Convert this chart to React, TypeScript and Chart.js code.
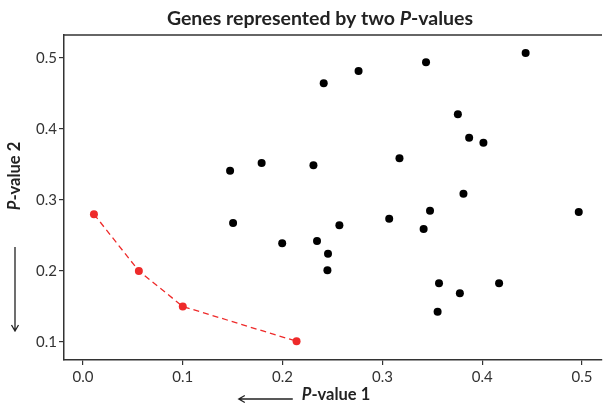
import React, { useEffect, useRef } from "react";
import { Chart, registerables } from "chart.js";
Chart.register(...registerables);

const blackX = [0.4435, 0.3437, 0.2761, 0.2412, 0.3756, 0.3869, 0.4012, 0.3171, 0.1474, 0.179, 0.2309, 0.3812, 0.3477, 0.3068, 0.4967, 0.1504, 0.2569, 0.3413, 0.2345, 0.1996, 0.2455, 0.2449, 0.3567, 0.4169, 0.3776, 0.3553];
const blackY = [0.507, 0.494, 0.4817, 0.4644, 0.4207, 0.3877, 0.3807, 0.3587, 0.3413, 0.3521, 0.3489, 0.3089, 0.2849, 0.2737, 0.2831, 0.2676, 0.2644, 0.2592, 0.2423, 0.239, 0.2244, 0.201, 0.1827, 0.1827, 0.1686, 0.1425];
const redX = [0.011, 0.056, 0.1, 0.214];
const redY = [0.28, 0.2, 0.15, 0.101];
const xTicks = [0, 0.1, 0.2, 0.3, 0.4, 0.5];
const yTicks = [0.1, 0.2, 0.3, 0.4, 0.5];
const titleParts = [
  { text: "Genes represented by two ", italic: false },
  { text: "P", italic: true },
  { text: "-values", italic: false },
];
const xLabelParts = [
  { text: "P", italic: true },
  { text: "-value 1", italic: false },
];
const yLabelParts = [
  { text: "P", italic: true },
  { text: "-value 2", italic: false },
];

const FAMILY = "Lato, 'Open Sans', sans-serif";
const AXIS_COLOR = "#333333";
const RED = "#EE2A2A";

type Part = { text: string; italic: boolean };

function drawParts(ctx: CanvasRenderingContext2D, parts: Part[], cx: number, cy: number, size: number) {
  const fontFor = (p: Part) => `${p.italic ? "italic " : ""}bold ${size}px ${FAMILY}`;
  let total = 0;
  const widths = parts.map((p) => {
    ctx.font = fontFor(p);
    const w = ctx.measureText(p.text).width;
    total += w;
    return w;
  });
  let x = cx - total / 2;
  ctx.textBaseline = "middle";
  ctx.textAlign = "left";
  ctx.fillStyle = "#222222";
  parts.forEach((p, i) => {
    ctx.font = fontFor(p);
    ctx.fillText(p.text, x, cy);
    x += widths[i];
  });
  return total;
}

const decorPlugin = {
  id: "decor",
  afterDraw(chart: any) {
    const ctx: CanvasRenderingContext2D = chart.ctx;
    const area = chart.chartArea;
    ctx.save();
    // top border
    ctx.strokeStyle = AXIS_COLOR;
    ctx.lineWidth = 1.5;
    ctx.beginPath();
    ctx.moveTo(area.left, area.top);
    ctx.lineTo(area.right, area.top);
    ctx.stroke();
    // title
    drawParts(ctx, titleParts, 320, 19, 19.5);
    // x label
    const cx = 336;
    const w = drawParts(ctx, xLabelParts, cx, 394.5, 16.5);
    // x arrow
    const ax1 = cx - w / 2 - 9;
    const ax0 = ax1 - 54;
    ctx.strokeStyle = "#222222";
    ctx.lineWidth = 1.3;
    ctx.beginPath();
    ctx.moveTo(ax1, 399);
    ctx.lineTo(ax0, 399);
    ctx.moveTo(ax0 + 6, 395.5);
    ctx.lineTo(ax0, 399);
    ctx.lineTo(ax0 + 6, 402.5);
    ctx.stroke();
    // y label
    ctx.save();
    ctx.translate(15, 176);
    ctx.rotate(-Math.PI / 2);
    drawParts(ctx, yLabelParts, 0, 0, 16.5);
    ctx.restore();
    // y arrow
    ctx.beginPath();
    ctx.moveTo(15, 247);
    ctx.lineTo(15, 331);
    ctx.moveTo(11.5, 325);
    ctx.lineTo(15, 331);
    ctx.lineTo(18.5, 325);
    ctx.stroke();
    ctx.restore();
  },
};

export default function App() {
  const ref = useRef<HTMLCanvasElement | null>(null);
  useEffect(() => {
    document.body.style.margin = "0";
    const canvas = ref.current!;
    const chart = new Chart(canvas, {
      type: "scatter",
      data: {
        datasets: [
          {
            data: blackX.map((x, i) => ({ x, y: blackY[i] })),
            pointRadius: 4,
            pointBackgroundColor: "#000000",
            pointBorderWidth: 0,
            showLine: false,
          },
          {
            data: redX.map((x, i) => ({ x, y: redY[i] })),
            pointRadius: 4,
            pointBackgroundColor: RED,
            pointBorderWidth: 0,
            showLine: true,
            borderColor: RED,
            borderWidth: 1.3,
            borderDash: [6, 4],
          },
        ],
      },
      options: {
        responsive: false,
        animation: false,
        events: [],
        layout: { padding: { top: 35, right: 2, left: 0, bottom: 0 } },
        plugins: { legend: { display: false }, tooltip: { enabled: false }, title: { display: false } },
        scales: {
          x: {
            type: "linear",
            min: -0.019,
            max: 0.52,
            afterFit: (s: any) => { s.height = 46; },
            afterBuildTicks: (s: any) => { s.ticks = xTicks.map((v) => ({ value: v })); },
            ticks: {
              callback: (v: any) => Number(v).toFixed(1),
              color: AXIS_COLOR,
              font: { family: FAMILY, size: 15 },
              padding: 3,
              maxRotation: 0,
              autoSkip: false,
            },
            grid: { drawOnChartArea: false, drawTicks: true, tickLength: 5, color: AXIS_COLOR, lineWidth: 1.2 },
            border: { display: true, color: AXIS_COLOR, width: 1.5 },
          },
          y: {
            type: "linear",
            min: 0.0746,
            max: 0.5324,
            afterFit: (s: any) => { s.width = 64; },
            afterBuildTicks: (s: any) => { s.ticks = yTicks.map((v) => ({ value: v })); },
            ticks: {
              callback: (v: any) => Number(v).toFixed(1),
              color: AXIS_COLOR,
              font: { family: FAMILY, size: 15 },
              padding: 2,
              autoSkip: false,
            },
            grid: { drawOnChartArea: false, drawTicks: true, tickLength: 5, color: AXIS_COLOR, lineWidth: 1.2 },
            border: { display: true, color: AXIS_COLOR, width: 1.5 },
          },
        },
      },
      plugins: [decorPlugin],
    } as any);
    return () => chart.destroy();
  }, []);
  return <canvas ref={ref} width={606} height={406} style={{ display: "block" }} />;
}
